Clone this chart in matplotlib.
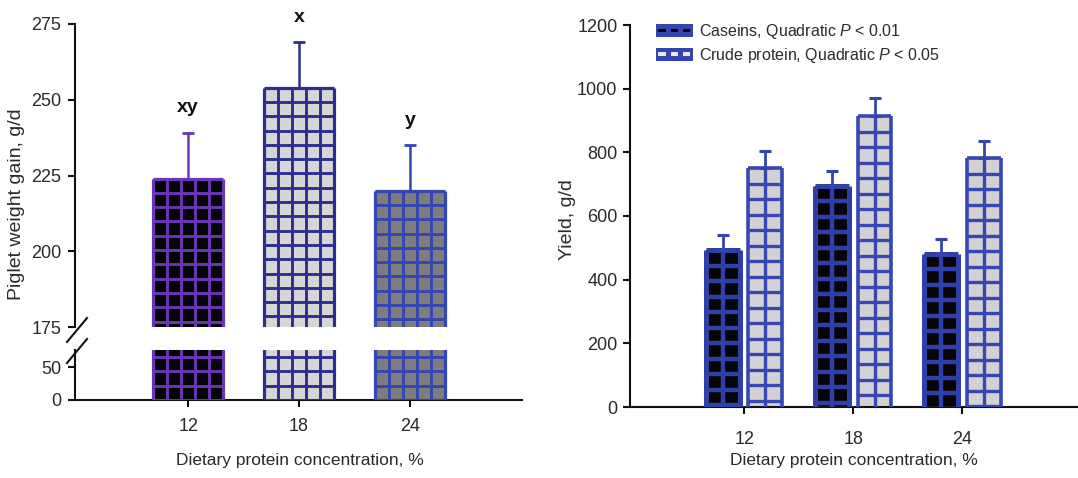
import matplotlib
matplotlib.use("Agg")
import matplotlib.pyplot as plt
from matplotlib.lines import Line2D
from matplotlib.patches import Rectangle
from matplotlib.legend_handler import HandlerBase

plt.rcParams['font.family'] = ['Liberation Sans', 'DejaVu Sans']
plt.rcParams['mathtext.fontset'] = 'custom'
plt.rcParams['mathtext.rm'] = 'Liberation Sans'
plt.rcParams['mathtext.it'] = 'Liberation Sans:italic'

# ---- data ----
protein_levels = ['12', '18', '24']
weight_gain = [224, 254, 220]
weight_gain_se = [15, 15, 15]
gain_letters = ['xy', 'x', 'y']

casein_yield = [493, 695, 481]
casein_se = [47, 47, 47]
crude_yield = [750, 914, 782]
crude_se = [54, 56, 54]

upper_ticks = [175, 200, 225, 250, 275]
lower_ticks = [0, 50]
yield_ticks = [0, 200, 400, 600, 800, 1000, 1200]

# ---- style ----
W, H = 1078, 478
fig = plt.figure(figsize=(W / 100, H / 100), dpi=100)
TXT = '#2a2a2a'
TICK_FS = 13

gain_styles = [  # face, grid/edge colour
    ('#050505', '#6a36b8'),
    ('#d6d6d6', '#2c2f90'),
    ('#7d7d7d', '#3446b6'),
]
BLUE = '#3445b0'


def px_box(x0, y0, x1, y1):
    """Axes rectangle from pixel corners (top-left origin)."""
    return [x0 / W, 1 - y1 / H, (x1 - x0) / W, (y1 - y0) / H]


def style_axes(ax):
    for s in ('top', 'right'):
        ax.spines[s].set_visible(False)
    for s in ('left', 'bottom'):
        ax.spines[s].set_linewidth(1.5)
        ax.spines[s].set_color('#111111')
    ax.tick_params(width=1.5, length=5, labelsize=TICK_FS, colors='#111111',
                   labelcolor=TXT)


def grid_bar(ax, patch, ncol, cell_px, line_color, lw, edge_lw, from_top=True):
    """Draw a square cell grid over a bar patch."""
    x0, w = patch.get_x(), patch.get_width()
    y0, h = patch.get_y(), patch.get_height()
    y1 = y0 + h
    lo, hi = ax.get_ylim()
    ppu = ax.bbox.height / (hi - lo)
    dy = cell_px / ppu
    for k in range(ncol + 1):
        xx = x0 + k * w / ncol
        ax.plot([xx, xx], [y0, y1], color=line_color,
                lw=edge_lw if k in (0, ncol) else lw,
                solid_capstyle='butt', zorder=3)
    ys = []
    if from_top:
        y = y1
        while y > lo - dy:
            ys.append(y)
            y -= dy
    else:
        y = y0
        while y < hi - 0.3 * dy:
            ys.append(y)
            y += dy
    for y in ys:
        ax.plot([x0, x0 + w], [y, y], color=line_color,
                lw=edge_lw if y == y1 else lw, solid_capstyle='butt', zorder=3)


# ---- left: piglet weight gain with broken axis ----
ax_up = fig.add_axes(px_box(75, 24, 522, 327))
ax_lo = fig.add_axes(px_box(75, 350, 522, 400))
xpos = list(range(len(protein_levels)))
bar_w = 0.63

for ax, ylim in ((ax_up, (175, 275)), (ax_lo, (0, 76))):
    style_axes(ax)
    ax.set_xlim(-1.02, 3.01)
    ax.set_ylim(*ylim)
    bars = ax.bar(xpos, weight_gain, width=bar_w,
                  color=[s[0] for s in gain_styles], linewidth=0, zorder=2)
    for b, (face, line) in zip(bars, gain_styles):
        grid_bar(ax, b, 5, 14.3, line, 2.1, 2.3, from_top=(ax is ax_up))

ax_up.spines['bottom'].set_visible(False)
ax_up.tick_params(axis='x', bottom=False, labelbottom=False)
ax_up.set_yticks(upper_ticks)
ax_lo.set_yticks(lower_ticks)
ax_lo.set_xticks(xpos)
ax_lo.set_xticklabels(protein_levels)
ax_lo.tick_params(axis='x', pad=8)
ax_lo.tick_params(axis='y', pad=5)
ax_up.tick_params(axis='y', pad=5)

for i, (v, se, lab) in enumerate(zip(weight_gain, weight_gain_se, gain_letters)):
    col = gain_styles[i][1]
    ax_up.errorbar(i, v, yerr=[[0], [se]], fmt='none', ecolor=col,
                   elinewidth=1.8, capsize=4.6, capthick=2, zorder=4)
    ax_up.annotate(lab, (i, v + se), xytext=(0, 12), textcoords='offset points',
                   ha='center', va='bottom', fontsize=14, fontweight='bold',
                   color='#111111', annotation_clip=False)

# break marks on the y axis
for yc in (330, 351):
    fig.add_artist(Line2D([(77 - 10) / W, (77 + 10) / W],
                          [1 - (yc + 12) / H, 1 - (yc - 12) / H],
                          color='#111111', lw=1.5))

fig.text(17 / W, 1 - 204 / H, 'Piglet weight gain, g/d', rotation=90,
         ha='center', va='center', fontsize=14, color=TXT)
fig.text(300 / W, 1 - 460 / H, 'Dietary protein concentration, %',
         ha='center', va='center', fontsize=12.5, color=TXT)

# ---- right: yield ----
ax_r = fig.add_axes(px_box(630, 25, 1078, 407))
style_axes(ax_r)
ax_r.set_xlim(-1.046, 3.06)
ax_r.set_ylim(0, 1200)
ax_r.set_yticks(yield_ticks)
ax_r.set_xticks(xpos)
ax_r.set_xticklabels(protein_levels)
ax_r.tick_params(axis='x', pad=12)
ax_r.tick_params(axis='y', pad=4)

off, rw = 0.195, 0.31
cas_bars = ax_r.bar([x - off for x in xpos], casein_yield, width=rw,
                    color='#050505', linewidth=0, zorder=2)
crude_bars = ax_r.bar([x + off for x in xpos], crude_yield, width=rw,
                      color='#d2d2d2', linewidth=0, zorder=2)
for b in cas_bars:
    grid_bar(ax_r, b, 2, 15.5, '#2f3fa8', 3.2, 3.6, from_top=True)
for b in crude_bars:
    grid_bar(ax_r, b, 2, 15.5, '#3647b4', 2.4, 2.6, from_top=True)
ax_r.errorbar([x - off for x in xpos], casein_yield,
              yerr=[[0] * 3, casein_se], fmt='none', ecolor=BLUE,
              elinewidth=2, capsize=4.3, capthick=2.2, zorder=4)
ax_r.errorbar([x + off for x in xpos], crude_yield,
              yerr=[[0] * 3, crude_se], fmt='none', ecolor=BLUE,
              elinewidth=2, capsize=4.3, capthick=2.2, zorder=4)


class CellHandle(HandlerBase):
    def __init__(self, inner):
        super().__init__()
        self.inner = inner

    def create_artists(self, legend, orig_handle, xdescent, ydescent,
                       width, height, fontsize, trans):
        arts = [Rectangle((-xdescent, -ydescent), width, height,
                          facecolor=BLUE, edgecolor='none', transform=trans)]
        cw = width / 3
        for k in range(3):
            arts.append(Rectangle((-xdescent + k * cw + cw * 0.2,
                                   -ydescent + height * 0.36),
                                  cw * 0.6, height * 0.28,
                                  facecolor=self.inner, edgecolor='none',
                                  transform=trans))
        return arts


h_cas = Rectangle((0, 0), 1, 1)
h_crude = Rectangle((0, 0), 1, 1)
leg = ax_r.legend([h_cas, h_crude],
                  ['Caseins, Quadratic $P$ < 0.01',
                   'Crude protein, Quadratic $P$ < 0.05'],
                  handler_map={h_cas: CellHandle('#050505'),
                               h_crude: CellHandle('#e8e8e8')},
                  loc='upper left', bbox_to_anchor=(656 / W, 1 - 22 / H),
                  bbox_transform=fig.transFigure, frameon=False,
                  fontsize=11.5, handlelength=2.3, handleheight=0.9,
                  handletextpad=0.4, labelspacing=0.3, borderpad=0,
                  borderaxespad=0, labelcolor=TXT)

fig.text(568 / W, 1 - 220 / H, 'Yield, g/d', rotation=90,
         ha='center', va='center', fontsize=14, color=TXT)
fig.text(854 / W, 1 - 460 / H, 'Dietary protein concentration, %',
         ha='center', va='center', fontsize=12.5, color=TXT)

fig.savefig('out.png', dpi=100, facecolor='white')
